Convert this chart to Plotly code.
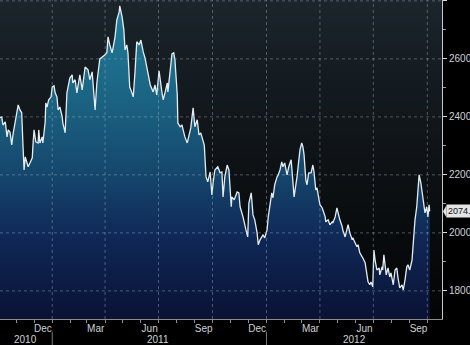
import base64
import struct
import zlib

import plotly.graph_objects as go

# ---------------- data ----------------
DATES = [
    "2010-10-04", "2010-10-07", "2010-10-09", "2010-10-13", "2010-10-16", "2010-10-18", "2010-10-21",
    "2010-10-24", "2010-10-26", "2010-10-30", "2010-11-02", "2010-11-04", "2010-11-07", "2010-11-10",
    "2010-11-12", "2010-11-14", "2010-11-16", "2010-11-19", "2010-11-21", "2010-11-24", "2010-11-28",
    "2010-11-29", "2010-12-01", "2010-12-04", "2010-12-08", "2010-12-09", "2010-12-11", "2010-12-15",
    "2010-12-16", "2010-12-20", "2010-12-21", "2010-12-23", "2010-12-26", "2010-12-30", "2011-01-01",
    "2011-01-04", "2011-01-06", "2011-01-09", "2011-01-11", "2011-01-14", "2011-01-18", "2011-01-19",
    "2011-01-23", "2011-01-26", "2011-01-28", "2011-01-31", "2011-02-04", "2011-02-05", "2011-02-09",
    "2011-02-12", "2011-02-17", "2011-02-21", "2011-02-26", "2011-03-03", "2011-03-06", "2011-03-10",
    "2011-03-15", "2011-03-18", "2011-03-23", "2011-03-28", "2011-04-01", "2011-04-04", "2011-04-06",
    "2011-04-09", "2011-04-13", "2011-04-18", "2011-04-21", "2011-04-25", "2011-04-26", "2011-04-30",
    "2011-05-03", "2011-05-05", "2011-05-08", "2011-05-10", "2011-05-13", "2011-05-15", "2011-05-19",
    "2011-05-22", "2011-05-25", "2011-05-29", "2011-06-01", "2011-06-05", "2011-06-08", "2011-06-11",
    "2011-06-17", "2011-06-22", "2011-06-25", "2011-06-28", "2011-07-02", "2011-07-07", "2011-07-09",
    "2011-07-12", "2011-07-16", "2011-07-17", "2011-07-21", "2011-07-24", "2011-07-27", "2011-07-29",
    "2011-08-02", "2011-08-03", "2011-08-07", "2011-08-10", "2011-08-12", "2011-08-15", "2011-08-19",
    "2011-08-22", "2011-08-25", "2011-08-29", "2011-09-01", "2011-09-05", "2011-09-08", "2011-09-11",
    "2011-09-17", "2011-09-20", "2011-09-23", "2011-09-27", "2011-09-30", "2011-10-02", "2011-10-05",
    "2011-10-10", "2011-10-14", "2011-10-17", "2011-10-19", "2011-10-22", "2011-10-26", "2011-10-29",
    "2011-11-02", "2011-11-03", "2011-11-07", "2011-11-12", "2011-11-15", "2011-11-17", "2011-11-20",
    "2011-11-22", "2011-11-27", "2011-11-30", "2011-12-02", "2011-12-06", "2011-12-09", "2011-12-12",
    "2011-12-16", "2011-12-18", "2011-12-21", "2011-12-24", "2011-12-26", "2011-12-29", "2012-01-02",
    "2012-01-04", "2012-01-07", "2012-01-10", "2012-01-12", "2012-01-15", "2012-01-19", "2012-01-21",
    "2012-01-24", "2012-01-27", "2012-01-29", "2012-02-01", "2012-02-05", "2012-02-08", "2012-02-12",
    "2012-02-15", "2012-02-17", "2012-02-22", "2012-02-24", "2012-02-27", "2012-03-01", "2012-03-03",
    "2012-03-05", "2012-03-08", "2012-03-10", "2012-03-13", "2012-03-17", "2012-03-20", "2012-03-22",
    "2012-03-25", "2012-03-27", "2012-03-30", "2012-04-01", "2012-04-05", "2012-04-06", "2012-04-10",
    "2012-04-11", "2012-04-15", "2012-04-18", "2012-04-22", "2012-04-23", "2012-04-27", "2012-04-30",
    "2012-05-02", "2012-05-05", "2012-05-09", "2012-05-10", "2012-05-14", "2012-05-17", "2012-05-19",
    "2012-05-22", "2012-05-26", "2012-05-27", "2012-05-31", "2012-06-03", "2012-06-05", "2012-06-08",
    "2012-06-12", "2012-06-13", "2012-06-17", "2012-06-20", "2012-06-22", "2012-06-25", "2012-06-27",
    "2012-06-30", "2012-07-02", "2012-07-04", "2012-07-07", "2012-07-11", "2012-07-12", "2012-07-16",
    "2012-07-17", "2012-07-19", "2012-07-23", "2012-07-26", "2012-07-29", "2012-07-31", "2012-08-04",
    "2012-08-07", "2012-08-10", "2012-08-12", "2012-08-15", "2012-08-19", "2012-08-21", "2012-08-24",
    "2012-08-27", "2012-08-29", "2012-09-01", "2012-09-05", "2012-09-07", "2012-09-10", "2012-09-13",
    "2012-09-15", "2012-09-17", "2012-09-20", "2012-09-22", "2012-09-24", "2012-09-27", "2012-09-30",
    "2012-10-02", "2012-10-04", "2012-10-05",
]

VALUES = [
    2397, 2400, 2372, 2383, 2331, 2355, 2348,
    2303, 2338, 2390, 2424, 2441, 2424, 2414,
    2310, 2217, 2262, 2241, 2228, 2241, 2259,
    2297, 2355, 2314, 2310, 2355, 2310, 2331,
    2310, 2383, 2448, 2434, 2459, 2469, 2503,
    2507, 2483, 2469, 2424, 2434, 2400, 2379,
    2345, 2483, 2503, 2534, 2545, 2517, 2528,
    2483, 2545, 2493, 2572, 2562, 2528, 2555,
    2424, 2517, 2600, 2607, 2614, 2621, 2676,
    2648, 2621, 2676, 2734, 2762, 2783, 2745,
    2700, 2631, 2648, 2621, 2503, 2493, 2469,
    2555, 2659, 2648, 2665, 2624, 2603, 2572,
    2510, 2486, 2510, 2476, 2559, 2483, 2459,
    2483, 2517, 2486, 2572, 2617, 2621, 2597,
    2476, 2379, 2366, 2372, 2355, 2331, 2310,
    2338, 2362, 2431, 2366, 2390, 2338, 2345,
    2303, 2193, 2176, 2210, 2131, 2172, 2217,
    2228, 2207, 2210, 2124, 2193, 2234, 2217,
    2090, 2124, 2114, 2141, 2138, 2090, 2069,
    2055, 2010, 1986, 2103, 2138, 2062, 2045,
    2000, 1959, 1976, 1986, 1993, 1983, 2010,
    2055, 2090, 2138, 2121, 2166, 2193, 2200,
    2217, 2245, 2228, 2241, 2200, 2228, 2252,
    2190, 2124, 2193, 2228, 2286, 2310, 2297,
    2269, 2183, 2166, 2207, 2207, 2234, 2210,
    2148, 2155, 2124, 2097, 2086, 2079, 2055,
    2038, 2045, 2028, 2038, 2034, 2055, 2086,
    2069, 2045, 2021, 2010, 1986, 2010, 2028,
    2000, 1976, 1983, 1966, 1952, 1959, 1931,
    1917, 1914, 1897, 1862, 1831, 1821, 1831,
    1814, 1941, 1907, 1872, 1879, 1855, 1883,
    1872, 1924, 1855, 1879, 1848, 1862, 1821,
    1872, 1879, 1845, 1810, 1821, 1803, 1838,
    1883, 1890, 1872, 1907, 1966, 2045, 2090,
    2148, 2200, 2172, 2138, 2103, 2069, 2090,
    2055, 2097, 2074,
]

LAST_LABEL = "2074."

X_RANGE = ["2010-10-04", "2012-10-26"]
Y_RANGE = [1703, 2803]
Y_TICKS = [1800, 2000, 2200, 2400, 2600, 2800]

MONTH_TICK_DATES = ["2010-12-16", "2011-03-16", "2011-06-16", "2011-09-16",
                    "2011-12-16", "2012-03-16", "2012-06-16", "2012-09-16"]
MONTH_TICK_TEXT = ["Dec", "Mar", "Jun", "Sep", "Dec", "Mar", "Jun", "Sep"]
GRID_DATES = ["2011-01-01", "2011-04-01", "2011-07-01", "2011-10-01",
              "2012-01-01", "2012-04-01", "2012-07-01", "2012-10-01"]
YEAR_LABELS = ["2010", "2011", "2012"]
YEAR_LABEL_DATES = ["2010-11-17", "2011-07-01", "2012-05-30"]
YEAR_BREAKS = ["2011-01-01", "2012-01-01"]

# ---------------- styles ----------------
FONT = "Liberation Sans, Arial, sans-serif"
TXT = "#cfd3d6"
GRID = "rgba(165,180,190,0.42)"
BG_STOPS = [(0.0, (27, 37, 43)), (0.45, (15, 20, 24)), (1.0, (3, 4, 5))]
FILL_SCALE = [[0.0, "#0a1234"], [0.25, "#0f2756"], [0.45, "#15466c"],
              [0.65, "#1a5f7f"], [0.85, "#1e7290"], [1.0, "#2382a0"]]


def gradient_png(stops, h=128, w=2):
    rows = []
    for r in range(h):
        t = r / (h - 1)
        for i in range(len(stops) - 1):
            a, ca = stops[i]
            b, cb = stops[i + 1]
            if a <= t <= b:
                f = (t - a) / (b - a) if b > a else 0
                c = tuple(int(round(ca[k] + (cb[k] - ca[k]) * f)) for k in range(3))
                break
        rows.append(b"\x00" + bytes(c) * w)
    raw = b"".join(rows)

    def chunk(tag, data):
        return (struct.pack(">I", len(data)) + tag + data
                + struct.pack(">I", zlib.crc32(tag + data) & 0xFFFFFFFF))

    png = (b"\x89PNG\r\n\x1a\n"
           + chunk(b"IHDR", struct.pack(">IIBBBBB", w, h, 8, 2, 0, 0, 0))
           + chunk(b"IDAT", zlib.compress(raw))
           + chunk(b"IEND", b""))
    return "data:image/png;base64," + base64.b64encode(png).decode()


fig = go.Figure()
fig.add_trace(go.Scatter(
    x=DATES, y=VALUES, mode="lines",
    line=dict(color="#e4edf1", width=1.3),
    fill="tozeroy",
    fillgradient=dict(type="vertical", colorscale=FILL_SCALE,
                      start=Y_RANGE[0], stop=Y_RANGE[1]),
    hoverinfo="skip", showlegend=False,
))

shapes = []
for v in Y_TICKS:
    shapes.append(dict(type="line", xref="paper", x0=0, x1=1, yref="y", y0=v, y1=v,
                       line=dict(color=GRID, width=1, dash="dot"), layer="above"))
for d in GRID_DATES:
    shapes.append(dict(type="line", xref="x", x0=d, x1=d, yref="paper", y0=0, y1=1,
                       line=dict(color=GRID, width=1, dash="dot"), layer="above"))
for d in YEAR_BREAKS:
    shapes.append(dict(type="line", xref="x", x0=d, x1=d, yref="paper", y0=-0.04, y1=-0.09,
                       line=dict(color="#7a7a7a", width=1)))
last = VALUES[-1]
px = 1 / 442.0
shapes.append(dict(type="path", xref="paper", yref="y",
                   path=f"M {1 + 1.0 * px},{last} L {1 + 4.5 * px},{last + 21} L {1 + 4.5 * px},{last - 21} Z",
                   fillcolor="#e4e4e4", line=dict(width=0)))

annotations = [
    dict(x=d, y=-0.065, xref="x", yref="paper", text=t, showarrow=False,
         xanchor="center", yanchor="middle", font=dict(family=FONT, size=10, color=TXT))
    for d, t in zip(YEAR_LABEL_DATES, YEAR_LABELS)
]
annotations.append(dict(x=1, xref="paper", y=last, yref="y", text=LAST_LABEL, showarrow=False,
                        xanchor="left", yanchor="middle", xshift=4, bgcolor="#e4e4e4",
                        borderpad=1, font=dict(family=FONT, size=9, color="#111111")))

fig.update_layout(
    width=470, height=345,
    margin=dict(l=0, r=28, t=0, b=26),
    template="none",
    paper_bgcolor="#000000",
    plot_bgcolor="#000000",
    showlegend=False,
    font=dict(family=FONT, size=10, color=TXT),
    images=[dict(source=gradient_png(BG_STOPS), xref="paper", yref="paper", x=0, y=1,
                 sizex=1, sizey=1, xanchor="left", yanchor="top", sizing="stretch",
                 layer="below")],
    shapes=shapes,
    annotations=annotations,
    xaxis=dict(
        type="date", range=X_RANGE, automargin=False,
        tickmode="array", tickvals=MONTH_TICK_DATES, ticktext=MONTH_TICK_TEXT,
        ticks="", showgrid=False, zeroline=False,
        showline=True, linecolor="#8c8c8c", linewidth=1,
        tickfont=dict(family=FONT, size=10, color=TXT),
        minor=dict(tick0="2010-11-01", dtick="M1", ticks="outside", ticklen=3,
                   tickcolor="#8c8c8c", showgrid=False),
    ),
    yaxis=dict(
        range=Y_RANGE, side="right", automargin=False,
        tickmode="array", tickvals=Y_TICKS,
        ticks="outside", ticklen=4, tickcolor="#d8d8d8", tickwidth=1,
        showgrid=False, zeroline=False,
        showline=True, linecolor="#c8c8c8", linewidth=1,
        tickfont=dict(family=FONT, size=10, color=TXT),
        minor=dict(tick0=1800, dtick=100, ticks="outside", ticklen=3,
                   tickcolor="#a0a0a0", showgrid=False),
    ),
)

fig.write_html(
    "out.html",
    config={"displayModeBar": False},
    post_script="document.body.style.margin='0';document.body.style.background='#000';",
)
